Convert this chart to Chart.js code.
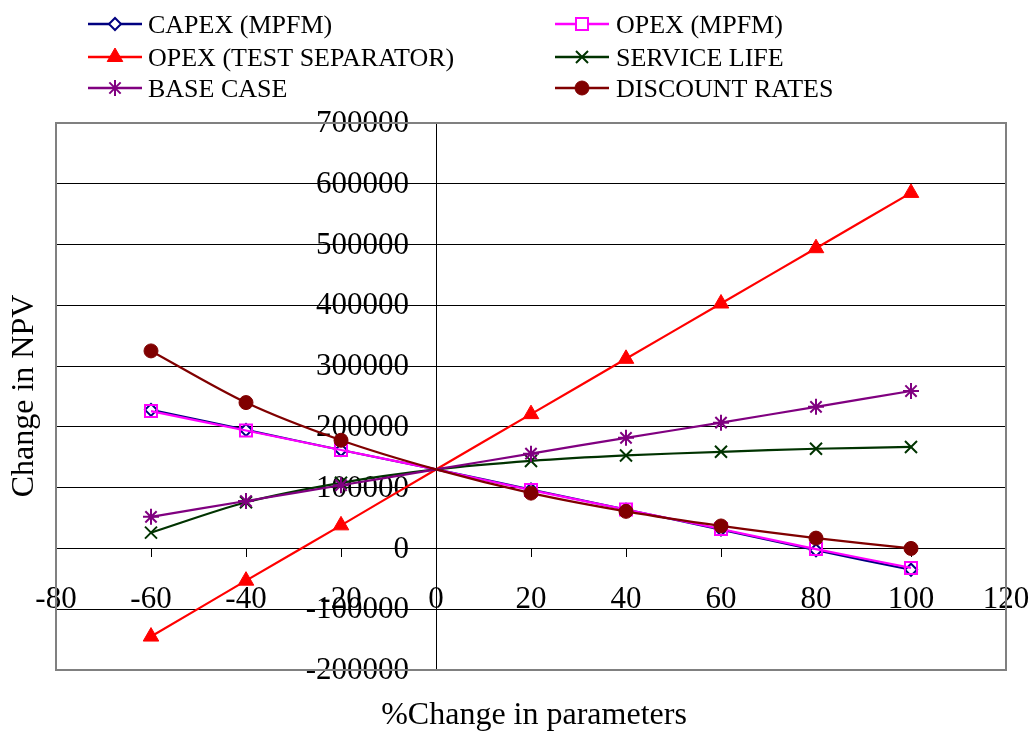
<!DOCTYPE html>
<html>
<head>
<meta charset="utf-8">
<title>Change in NPV</title>
<script src="https://cdn.jsdelivr.net/npm/chart.js@4/dist/chart.umd.min.js"></script>
<style>
  html, body { margin: 0; padding: 0; background: #ffffff; }
  #wrap { width: 1030px; height: 731px; }
</style>
</head>
<body>
<div id="wrap"><canvas id="npv" width="1030" height="731"></canvas></div>
<script>
// % change applied to each parameter
const xValues = [-60, -40, -20, 0, 20, 40, 60, 80, 100];

// Change in NPV for each sensitivity case
const capexMpfm     = [228000, 195000, 162000, 130000, 97000, 64000, 31000, -3000, -35000];
const opexMpfm      = [226000, 194000, 162000, 130000, 96000, 64000, 32000, -1000, -32000];
const opexTestSep   = [-145000, -53000, 38000, 130000, 221000, 312000, 403000, 494000, 585000];
const serviceLife   = [26000, 76000, 108000, 130000, 144000, 153000, 159000, 164000, 167000];
const baseCase      = [52000, 78000, 104000, 130000, 156000, 182000, 207000, 233000, 259000];
const discountRates = [325000, 240000, 178000, 130000, 91000, 61000, 37000, 17000, 0];

const seriesNames = ['CAPEX (MPFM)', 'OPEX (MPFM)', 'OPEX (TEST SEPARATOR)', 'SERVICE LIFE', 'BASE CASE', 'DISCOUNT RATES'];

// axis ranges and titles
const xTicks = { min: -80, max: 120, step: 20 };
const yTicks = { min: -200000, max: 700000, step: 100000 };
const xTitle = '%Change in parameters';
const yTitle = 'Change in NPV';

const SERIF = "'Liberation Serif', 'Times New Roman', serif";

const styles = [
  { color: '#000080', style: 'rectRot',  r: 6,   fill: '#ffffff', bw: 2 },
  { color: '#ff00ff', style: 'rect',     r: 8.5, fill: 'rgba(0,0,0,0)', bw: 2 },
  { color: '#ff0000', style: 'triangle', r: 9,   fill: '#ff0000', bw: 1 },
  { color: '#003300', style: 'crossRot', r: 8.5, fill: '#003300', bw: 2 },
  { color: '#800080', style: 'star',     r: 8,   fill: '#800080', bw: 2 },
  { color: '#800000', style: 'circle',   r: 7,   fill: '#800000', bw: 1 }
];

const seriesValues = [capexMpfm, opexMpfm, opexTestSep, serviceLife, baseCase, discountRates];

const datasets = seriesValues.map((vals, i) => {
  const s = styles[i];
  return {
    label: seriesNames[i],
    data: vals.map((v, k) => ({ x: xValues[k], y: v })),
    borderColor: s.color,
    backgroundColor: s.fill,
    borderWidth: 2.2,
    pointStyle: s.style,
    pointRadius: ctx => (xValues[ctx.dataIndex] === 0 ? 0 : s.r),
    pointBorderColor: s.color,
    pointBackgroundColor: s.fill,
    pointBorderWidth: s.bw,
    tension: 0.3,
    fill: false,
    order: seriesValues.length - i
  };
});

// grey frame around the plot area
const framePlugin = {
  id: 'frame',
  afterDraw(chart) {
    const { ctx, chartArea: a } = chart;
    ctx.save();
    ctx.strokeStyle = '#808080';
    ctx.lineWidth = 2;
    ctx.strokeRect(a.left, a.top, a.right - a.left, a.bottom - a.top);
    ctx.restore();
  }
};

// y tick labels, set off to the left of the centred value axis
const yLabelsPlugin = {
  id: 'yLabels',
  beforeDatasetsDraw(chart) {
    const { ctx, scales } = chart;
    const axisX = scales.x.getPixelForValue(0);
    ctx.save();
    ctx.fillStyle = '#000';
    ctx.font = '31px ' + SERIF;
    ctx.textAlign = 'right';
    ctx.textBaseline = 'middle';
    scales.y.ticks.forEach(t => {
      ctx.fillText(String(t.value), axisX - 27, scales.y.getPixelForValue(t.value) + 1);
    });
    ctx.restore();
  }
};

// axis titles placed outside the crossing axes
const titlesPlugin = {
  id: 'axisTitles',
  afterDraw(chart) {
    const { ctx } = chart;
    ctx.save();
    ctx.fillStyle = '#000';
    ctx.textAlign = 'center';
    ctx.textBaseline = 'middle';
    ctx.font = '32px ' + SERIF;
    ctx.fillText(xTitle, 534, 716);
    ctx.translate(25, 396);
    ctx.rotate(-Math.PI / 2);
    ctx.font = '32px ' + SERIF;
    ctx.fillText(yTitle, 0, 0);
    ctx.restore();
  }
};

// two-column legend above the plot
const legendPlugin = {
  id: 'twoColLegend',
  afterDraw(chart) {
    const { ctx } = chart;
    const cols = [{ x: 88, tx: 148 }, { x: 555, tx: 616 }];
    const rows = [24, 57, 88];
    ctx.save();
    ctx.font = '26px ' + SERIF;
    ctx.textBaseline = 'alphabetic';
    ctx.textAlign = 'left';
    chart.data.datasets.forEach((ds, i) => {
      const col = cols[i % 2];
      const y = rows[Math.floor(i / 2)];
      const s = styles[i];
      ctx.strokeStyle = s.color;
      ctx.lineWidth = 2.5;
      ctx.beginPath();
      ctx.moveTo(col.x, y);
      ctx.lineTo(col.x + 54, y);
      ctx.stroke();
      ctx.fillStyle = s.style === 'rect' ? '#ffffff' : s.fill;
      ctx.strokeStyle = s.color;
      ctx.lineWidth = s.bw;
      Chart.helpers.drawPoint(ctx, { pointStyle: s.style, radius: s.r, borderWidth: s.bw, rotation: 0 }, col.x + 27, y);
      ctx.fillStyle = '#000';
      ctx.fillText(ds.label, col.tx, y + 9);
    });
    ctx.restore();
  }
};

// keep tick labels from shrinking the plot area
const noEdgePadding = scale => {
  scale.paddingLeft = 0;
  scale.paddingRight = 0;
  scale.paddingTop = 0;
  scale.paddingBottom = 0;
};

new Chart(document.getElementById('npv'), {
  type: 'line',
  data: { datasets },
  plugins: [framePlugin, yLabelsPlugin, titlesPlugin, legendPlugin],
  options: {
    responsive: false,
    devicePixelRatio: 1,
    animation: false,
    layout: { padding: { left: 56, right: 24, top: 123, bottom: 61 } },
    plugins: { legend: { display: false }, tooltip: { enabled: false } },
    scales: {
      x: {
        type: 'linear',
        position: { y: 0 },
        min: xTicks.min,
        max: xTicks.max,
        afterFit: noEdgePadding,
        grid: { drawOnChartArea: false, drawTicks: true, tickLength: 8, color: '#000', lineWidth: 1 },
        border: { display: true, color: '#000', width: 1 },
        ticks: {
          stepSize: xTicks.step,
          padding: 25,
          color: '#000',
          font: { family: SERIF, size: 31 },
          maxRotation: 0,
          autoSkip: false,
          callback: v => String(v)
        }
      },
      y: {
        type: 'linear',
        position: { x: 0 },
        min: yTicks.min,
        max: yTicks.max,
        afterFit: noEdgePadding,
        grid: { drawOnChartArea: true, drawTicks: true, tickLength: 8, color: '#000', lineWidth: 1 },
        border: { display: true, color: '#000', width: 1 },
        ticks: {
          stepSize: yTicks.step,
          color: 'rgba(0,0,0,0)',
          font: { family: SERIF, size: 31 },
          autoSkip: false,
          callback: v => String(v)
        }
      }
    }
  }
});
</script>
</body>
</html>
